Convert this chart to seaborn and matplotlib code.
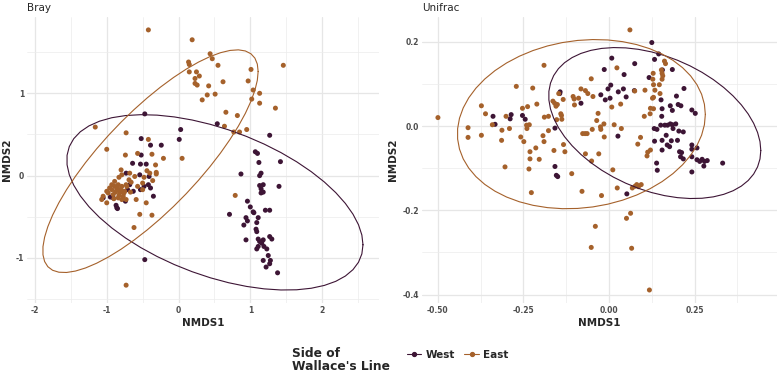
import numpy as np
import pandas as pd
import seaborn as sns
import matplotlib.pyplot as plt
from matplotlib.ticker import MultipleLocator, FormatStrFormatter
from matplotlib.lines import Line2D

# Bray-Curtis NMDS scores
bray_west_x = [-0.47, 0.54, 0.03, 0.01, 1.27, 1.07, 1.10, 1.12, 1.42, 0.87,
               1.13, 1.15, 1.40, 1.13, 1.15, 1.18, 1.15, 1.18, 0.96, 0.71,
               1.00, 1.04, 1.05, 1.21, 1.27, 0.94, 0.96, 1.11, 0.91, 1.09,
               1.08, 1.09, 0.94, 1.11, 1.13, 1.18, 1.27, 1.30, 1.19, 1.11,
               1.09, 1.16, 1.23, 1.25, 1.28, 1.27, 1.18, 1.22, 1.38, -0.47,
               -0.52, -0.39, -0.24, -0.52, -0.64, -0.53, -0.45, -0.73, -0.54, -0.41,
               -0.42, -0.39, -0.35, -0.53, -0.63, -0.74, -0.86, -0.85, -1.05, -0.95,
               -0.79, -0.68, -0.87, -0.91, -0.71, -0.48]
bray_west_y = [0.75, 0.63, 0.56, 0.44, 0.49, 0.29, 0.27, 0.16, 0.17, 0.02,
               0.00, 0.03, -0.13, -0.12, -0.16, -0.11, -0.21, -0.20, -0.31, -0.47,
               -0.38, -0.44, -0.45, -0.42, -0.42, -0.51, -0.55, -0.51, -0.60, -0.57,
               -0.65, -0.68, -0.78, -0.77, -0.80, -0.78, -0.74, -0.77, -0.86, -0.86,
               -0.89, -0.82, -0.89, -0.97, -1.03, -1.07, -1.03, -1.11, -1.18, -1.02,
               0.45, 0.37, 0.37, 0.25, 0.15, 0.14, 0.14, 0.03, 0.01, -0.01,
               -0.11, -0.15, -0.25, -0.17, -0.19, -0.31, -0.39, -0.40, -0.27, -0.26,
               -0.19, -0.11, -0.36, -0.27, -0.17, -0.13]
bray_east_x = [-0.42, 0.19, 0.44, 0.47, 0.14, 0.15, 0.55, 1.46, 0.15, 0.25,
               0.29, 0.23, 1.01, 0.97, 0.62, 0.23, 0.26, 0.42, 1.04, 0.40,
               0.51, 0.33, 1.13, 1.02, 1.13, 1.35, 0.66, 0.82, 0.64, 0.77,
               0.85, 0.95, -1.16, -0.73, -1.00, -0.42, 0.05, 0.79, -0.62, -0.73,
               -0.37, -0.54,
               -0.74, -0.57, -0.37, -0.21, -0.32, -0.31, -0.31, -0.44, -0.40, -0.48,
               -0.36, -0.50, -0.57, -0.50, -0.67, -0.61, -0.69, -0.73, -0.80, -0.83,
               -0.89, -0.93, -0.96, -1.00, -1.05, -1.07, -1.00, -0.91, -0.86, -0.82,
               -0.77, -0.79, -0.84, -0.73, -0.93, -0.79, -0.84, -0.68, -0.59, -0.45,
               -0.79, -0.75, -0.89, -0.98, -0.88, -0.85, -0.80, -0.76, -0.90, -0.72,
               -0.66, -0.83]
bray_east_y = [1.77, 1.65, 1.48, 1.42, 1.38, 1.35, 1.34, 1.34, 1.26, 1.26,
               1.21, 1.18, 1.29, 1.15, 1.14, 1.12, 1.10, 1.09, 1.04, 0.98,
               0.99, 0.92, 1.00, 0.93, 0.88, 0.82, 0.77, 0.73, 0.60, 0.53,
               0.53, 0.56, 0.59, 0.52, 0.32, 0.44, 0.21, -0.24, -0.63, -1.33,
               -0.48, -0.47,
               0.25, 0.27, 0.26, 0.21, 0.13, 0.04, 0.02, 0.06, 0.03, -0.02,
               -0.06, -0.09, -0.13, -0.17, -0.20, -0.01, -0.05, -0.11, 0.07, -0.02,
               -0.07, -0.11, -0.15, -0.19, -0.25, -0.29, -0.33, -0.23, -0.17, -0.21,
               -0.25, -0.29, -0.27, -0.29, -0.17, -0.13, -0.11, 0.03, -0.29, -0.33,
               0.01, -0.19, -0.13, -0.21, -0.20, -0.15, -0.17, -0.21, -0.28, -0.13,
               -0.08, -0.24]

# UniFrac NMDS scores
uni_west_x = [0.125, 0.145, 0.133, 0.008, 0.075, -0.014, 0.156, 0.185, 0.044, 0.117,
              0.219, 0.005, -0.003, -0.024, 0.027, 0.042, 0.074, -0.011, 0.003, 0.050,
              -0.143, -0.144, -0.082, 0.197, 0.152, 0.179, 0.202, 0.210, 0.242, 0.252,
              0.155, 0.185, 0.154, -0.339, -0.286, -0.289, -0.253, -0.245, -0.333, -0.158,
              0.132, 0.140, 0.151, 0.163, 0.171, 0.179, 0.185, 0.195, 0.187, 0.217,
              0.204, 0.167, 0.200, 0.133, 0.155, 0.182, 0.170, 0.177, 0.155, 0.206,
              0.212, 0.209, 0.217, 0.242, 0.242, 0.257, 0.242, 0.257, 0.265, 0.272,
              0.279, 0.277, 0.287, 0.332, 0.139, 0.141, 0.242, -0.158, -0.154, -0.150,
              0.026, 0.052]
uni_west_y = [0.198, 0.171, 0.158, 0.161, 0.148, 0.134, 0.133, 0.134, 0.122, 0.115,
              0.089, 0.097, 0.088, 0.074, 0.081, 0.088, 0.084, 0.062, 0.066, 0.069,
              0.081, 0.077, 0.054, 0.071, 0.062, 0.048, 0.051, 0.048, 0.038, 0.030,
              0.041, 0.037, 0.023, 0.023, 0.027, 0.017, 0.025, 0.016, 0.004, -0.005,
              -0.006, -0.008, 0.002, 0.002, 0.002, 0.005, 0.003, 0.005, -0.006, -0.014,
              -0.012, -0.022, -0.034, -0.036, -0.034, -0.035, -0.045, -0.049, -0.057, -0.061,
              -0.063, -0.073, -0.078, -0.045, -0.055, -0.052, -0.073, -0.080, -0.084, -0.079,
              -0.084, -0.095, -0.082, -0.088, -0.088, -0.105, -0.109, -0.096, -0.117, -0.120,
              -0.024, -0.161]
uni_east_x = [0.061, -0.190, 0.023, -0.052, -0.271, -0.223, -0.102, -0.082, -0.069, -0.062,
              -0.047, -0.105, -0.089, -0.101, -0.134, -0.147, -0.164, -0.159, -0.155, -0.151,
              -0.211, -0.238, -0.253, -0.373, -0.361, -0.500, -0.412, -0.412, -0.373, -0.341,
              -0.301, -0.313, -0.291, -0.314, -0.304, -0.258, -0.249, -0.240, -0.233, -0.241,
              -0.231, -0.231, -0.234, -0.227, -0.214, -0.204, -0.193, -0.190, -0.189, -0.177,
              -0.177, -0.161, -0.153, -0.141, -0.139, -0.138, -0.133, -0.129, -0.109, -0.077,
              -0.070, -0.064, -0.069, -0.079, -0.051, -0.049, -0.036, -0.032, -0.030, -0.025,
              -0.024, -0.015, -0.014, -0.022, -0.052, -0.040, 0.015, 0.008, 0.011, 0.024,
              0.034, 0.036, 0.051, 0.063, 0.066, 0.068, 0.076, 0.081, 0.086, 0.094,
              0.084, 0.092, 0.075, 0.105, 0.103, 0.113, 0.111, 0.121, 0.120, 0.121,
              0.127, 0.130, 0.130, 0.129, 0.128, 0.130, 0.134, 0.147, 0.149, 0.153,
              0.155, 0.157, 0.162, 0.165, 0.155, 0.118]
uni_east_y = [0.228, 0.144, 0.138, 0.112, 0.094, 0.090, 0.064, 0.088, 0.084, 0.077,
              0.070, 0.070, 0.066, 0.050, 0.063, 0.077, 0.059, 0.054, 0.047, 0.051,
              0.052, 0.046, 0.042, 0.048, 0.029, 0.020, -0.004, -0.027, -0.022, 0.003,
              0.023, -0.010, -0.006, -0.034, -0.097, -0.026, -0.037, -0.006, 0.003, 0.002,
              -0.061, -0.078, -0.102, -0.158, -0.052, -0.079, -0.023, -0.037, 0.021, 0.023,
              -0.011, -0.058, 0.015, 0.029, 0.025, 0.016, -0.044, -0.061, -0.113, -0.018,
              -0.018, -0.018, -0.066, -0.155, -0.083, -0.008, 0.013, 0.030, -0.066, -0.002,
              -0.008, 0.005, -0.026, -0.165, -0.288, -0.238, 0.003, 0.045, -0.104, -0.147,
              0.052, -0.006, -0.219, -0.207, -0.290, -0.147, -0.143, -0.139, -0.144, -0.139,
              -0.043, -0.027, 0.083, 0.085, 0.023, -0.062, -0.071, -0.057, 0.029, 0.042,
              0.066, 0.068, 0.041, 0.125, 0.111, 0.098, 0.085, 0.098, 0.077, 0.133,
              0.125, 0.119, 0.154, 0.148, 0.111, -0.389]

sides = ["West", "East"]
palette = {"West": "#3d1535", "East": "#a5612b"}


def cov_trob(xy, nu=5, maxit=25, tol=0.01):
    # robust t covariance, as MASS::cov.trob (used by stat_ellipse)
    x = np.asarray(xy, float)
    n, p = x.shape
    w = np.ones(n)
    loc = x.mean(axis=0)
    for _ in range(maxit):
        w0 = w
        X = x - loc
        _, d, vt = np.linalg.svd(np.sqrt(w / w.sum())[:, None] * X, full_matrices=False)
        Q = ((X @ vt.T / d) ** 2).sum(axis=1)
        w = (nu + p) / (nu + Q)
        loc = (w[:, None] * x).sum(axis=0) / w.sum()
        if np.all(np.abs(w - w0) < tol):
            break
    sx = np.sqrt(w)[:, None] * X
    return loc, sx.T @ sx / n


def ellipse(xy, level=0.95, segments=51):
    center, shape = cov_trob(xy)
    dfd = len(xy) - 1
    fq = dfd / 2 * ((1 - level) ** (-2 / dfd) - 1)
    radius = np.sqrt(2 * fq)
    ang = np.linspace(0, 2 * np.pi, segments + 1)
    circle = np.column_stack([np.cos(ang), np.sin(ang)])
    return center + radius * circle @ np.linalg.cholesky(shape).T


def make_df(wx, wy, ex, ey):
    return pd.DataFrame({
        "NMDS1": wx + ex,
        "NMDS2": wy + ey,
        "side": ["West"] * len(wx) + ["East"] * len(ex),
    })


panels = [
    ("Bray", make_df(bray_west_x, bray_west_y, bray_east_x, bray_east_y), 1.0, 1.0, "%d", "%d"),
    ("Unifrac", make_df(uni_west_x, uni_west_y, uni_east_x, uni_east_y), 0.25, 0.2, "%.2f", "%.1f"),
]

sns.set_theme(style="whitegrid")
plt.rcParams["font.family"] = ["DejaVu Sans"]
plt.rcParams["axes.unicode_minus"] = False

fig = plt.figure(figsize=(7.84, 3.73), dpi=100)
ax_pos = [[0.0344, 0.1877, 0.449, 0.767], [0.538, 0.1877, 0.453, 0.767]]

for (name, df, xstep, ystep, xfmt, yfmt), pos in zip(panels, ax_pos):
    ax = fig.add_axes(pos)
    sns.scatterplot(data=df, x="NMDS1", y="NMDS2", hue="side", hue_order=sides,
                    palette=palette, s=13, linewidth=0, ax=ax, legend=False, zorder=3)
    allx = list(df["NMDS1"])
    ally = list(df["NMDS2"])
    for side in sides:
        sub = df[df["side"] == side][["NMDS1", "NMDS2"]].values
        el = ellipse(sub)
        ax.plot(el[:, 0], el[:, 1], color=palette[side], lw=0.8, zorder=4)
        allx += list(el[:, 0])
        ally += list(el[:, 1])
    # ggplot-like 5% expansion
    xr = max(allx) - min(allx)
    yr = max(ally) - min(ally)
    ax.set_xlim(min(allx) - 0.05 * xr, max(allx) + 0.05 * xr)
    ax.set_ylim(min(ally) - 0.05 * yr, max(ally) + 0.05 * yr)

    ax.xaxis.set_major_locator(MultipleLocator(xstep))
    ax.xaxis.set_minor_locator(MultipleLocator(xstep / 2))
    ax.yaxis.set_major_locator(MultipleLocator(ystep))
    ax.yaxis.set_minor_locator(MultipleLocator(ystep / 2))
    ax.xaxis.set_major_formatter(FormatStrFormatter(xfmt))
    ax.yaxis.set_major_formatter(FormatStrFormatter(yfmt))

    ax.set_facecolor("white")
    ax.grid(which="major", color="#e6e6e6", lw=0.9)
    ax.grid(which="minor", color="#ececec", lw=0.5)
    for sp in ax.spines.values():
        sp.set_visible(False)
    ax.tick_params(which="both", length=0, pad=2, labelsize=5.5,
                   labelcolor="#4d4d4d")
    for lab in ax.get_xticklabels() + ax.get_yticklabels():
        lab.set_fontweight("bold")
    ax.set_xlabel("NMDS1", fontsize=7.5, fontweight="bold", labelpad=2)
    ax.set_ylabel("NMDS2", fontsize=7.5, fontweight="bold", labelpad=3)
    ax.set_title(name, loc="left", fontsize=7.5, pad=4)

fig.text(0.373, 0.035, "Side of\nWallace's Line", fontsize=8.8, fontweight="bold",
         ha="left", va="center", linespacing=0.95)
handles = [Line2D([0], [0], color=palette[s], marker="o", markersize=2.8, lw=0.8)
           for s in sides]
fig.legend(handles, sides, loc="center left", bbox_to_anchor=(0.507, 0.048), ncol=2,
           frameon=False, handlelength=1.4, handletextpad=0.4, columnspacing=0.9,
           prop={"size": 7.5, "weight": "bold"})

fig.savefig("out.png", dpi=100)
